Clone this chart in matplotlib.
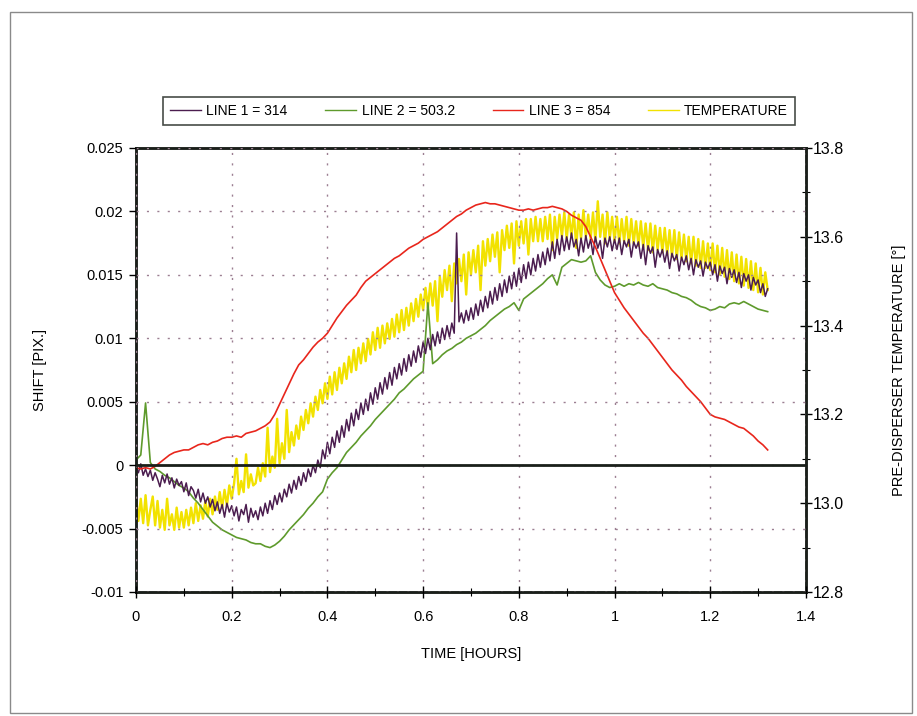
import numpy as np
import matplotlib
matplotlib.use('Agg')
import matplotlib.pyplot as plt
from matplotlib.ticker import MultipleLocator, FuncFormatter
from matplotlib.patches import Rectangle
from matplotlib.lines import Line2D

plt.rcParams['font.family'] = ['Liberation Sans', 'DejaVu Sans']

# time grids (hours)
t_coarse = np.round(np.arange(133) * 0.01, 3)
t_fine = np.round(np.arange(265) * 0.005, 3)

# LINE 3 = 854 (shift, pix), every 0.01 h
line3 = [
    -0.0002, -0.0003, -0.0002, -0.0003, -0.0001, 0.0002, 0.0005, 0.0008, 0.0010, 0.0011,
    0.0012, 0.0012, 0.0014, 0.0016, 0.0017, 0.0016, 0.0018, 0.0019, 0.0021, 0.0022,
    0.0022, 0.0023, 0.0022, 0.0025, 0.0026, 0.0027, 0.0029, 0.0031, 0.0034, 0.0040,
    0.0048, 0.0056, 0.0064, 0.0072, 0.0079, 0.0083, 0.0088, 0.0093, 0.0097, 0.0100,
    0.0104, 0.0110, 0.0116, 0.0121, 0.0126, 0.0130, 0.0134, 0.0140, 0.0145, 0.0148,
    0.0151, 0.0154, 0.0157, 0.0160, 0.0163, 0.0165, 0.0168, 0.0171, 0.0173, 0.0175,
    0.0178, 0.0180, 0.0182, 0.0184, 0.0187, 0.0190, 0.0193, 0.0196, 0.0198, 0.0201,
    0.0203, 0.0205, 0.0206, 0.0207, 0.0206, 0.0206, 0.0205, 0.0204, 0.0203, 0.0202,
    0.0201, 0.0201, 0.0202, 0.0201, 0.0202, 0.0203, 0.0203, 0.0204, 0.0203, 0.0202,
    0.0200, 0.0197, 0.0195, 0.0193, 0.0188, 0.0180, 0.0172, 0.0163, 0.0154, 0.0145,
    0.0136, 0.0130, 0.0124, 0.0119, 0.0114, 0.0109, 0.0104, 0.0100, 0.0095, 0.0090,
    0.0085, 0.0080, 0.0075, 0.0071, 0.0067, 0.0062, 0.0058, 0.0054, 0.0050, 0.0045,
    0.0040, 0.0038, 0.0037, 0.0036, 0.0034, 0.0032, 0.0030, 0.0029, 0.0026, 0.0023,
    0.0019, 0.0016, 0.0012,
]

# LINE 2 = 503.2, every 0.01 h
line2 = [
    0.0004, 0.0008, 0.0049, 0.0002, -0.0003, -0.0005, -0.0008, -0.0010, -0.0013, -0.0016,
    -0.0018, -0.0021, -0.0026, -0.0030, -0.0035, -0.0040, -0.0045, -0.0048, -0.0051, -0.0053,
    -0.0055, -0.0057, -0.0058, -0.0059, -0.0061, -0.0062, -0.0062, -0.0064, -0.0065, -0.0063,
    -0.0060, -0.0056, -0.0051, -0.0047, -0.0043, -0.0039, -0.0034, -0.0030, -0.0025, -0.0021,
    -0.0011, -0.0006, -0.0002, 0.0004, 0.0010, 0.0014, 0.0018, 0.0023, 0.0027, 0.0031,
    0.0036, 0.0040, 0.0044, 0.0048, 0.0052, 0.0057, 0.0060, 0.0064, 0.0068, 0.0071,
    0.0074, 0.0128, 0.0080, 0.0083, 0.0087, 0.0090, 0.0092, 0.0095, 0.0097, 0.0100,
    0.0102, 0.0104, 0.0107, 0.0110, 0.0114, 0.0117, 0.0120, 0.0123, 0.0125, 0.0128,
    0.0122, 0.0131, 0.0134, 0.0137, 0.0140, 0.0143, 0.0147, 0.0150, 0.0142, 0.0156,
    0.0159, 0.0162, 0.0161, 0.0160, 0.0161, 0.0165, 0.0152, 0.0146, 0.0142, 0.0140,
    0.0141, 0.0143, 0.0141, 0.0143, 0.0142, 0.0144, 0.0142, 0.0141, 0.0143, 0.0140,
    0.0139, 0.0138, 0.0136, 0.0135, 0.0133, 0.0132, 0.0130, 0.0127, 0.0125, 0.0124,
    0.0122, 0.0123, 0.0125, 0.0124, 0.0127, 0.0128, 0.0127, 0.0129, 0.0127, 0.0125,
    0.0123, 0.0122, 0.0121,
]

# LINE 1 = 314, every 0.005 h
line1 = [
    -0.0002, -0.0006, 0.0001, -0.0008, -0.0003, -0.0009, -0.0004, -0.0012, -0.0006, -0.0011,
    -0.0017, -0.0008, -0.0014, -0.0007, -0.0015, -0.0010, -0.0018, -0.0011, -0.0016, -0.0013,
    -0.0021, -0.0014, -0.0024, -0.0017, -0.0020, -0.0026, -0.0019, -0.0029, -0.0022, -0.0030,
    -0.0025, -0.0033, -0.0027, -0.0036, -0.0029, -0.0038, -0.0031, -0.0041, -0.0030, -0.0037,
    -0.0032, -0.0040, -0.0033, -0.0044, -0.0035, -0.0039, -0.0031, -0.0045, -0.0034, -0.0041,
    -0.0036, -0.0043, -0.0033, -0.0040, -0.0030, -0.0038, -0.0028, -0.0035, -0.0024, -0.0031,
    -0.0022, -0.0029, -0.0019, -0.0025, -0.0015, -0.0022, -0.0012, -0.0019, -0.0009, -0.0016,
    -0.0006, -0.0013, -0.0003, -0.0009, 0.0000, -0.0006, 0.0004, -0.0002, 0.0012, 0.0005,
    0.0018, 0.0009, 0.0022, 0.0014, 0.0027, 0.0018, 0.0031, 0.0022, 0.0036, 0.0027,
    0.0041, 0.0031, 0.0044, 0.0036, 0.0049, 0.0040, 0.0052, 0.0043, 0.0057, 0.0048,
    0.0061, 0.0052, 0.0065, 0.0056, 0.0069, 0.0060, 0.0073, 0.0063, 0.0077, 0.0068,
    0.0080, 0.0071, 0.0084, 0.0074, 0.0087, 0.0078, 0.0090, 0.0081, 0.0094, 0.0085,
    0.0097, 0.0088, 0.0100, 0.0091, 0.0103, 0.0094, 0.0105, 0.0096, 0.0108, 0.0099,
    0.0110, 0.0101, 0.0112, 0.0104, 0.0183, 0.0113, 0.0120, 0.0112, 0.0122, 0.0114,
    0.0124, 0.0115, 0.0127, 0.0118, 0.0130, 0.0121, 0.0133, 0.0124, 0.0137, 0.0127,
    0.0140, 0.0130, 0.0143, 0.0133, 0.0146, 0.0136, 0.0149, 0.0139, 0.0152, 0.0141,
    0.0155, 0.0144, 0.0158, 0.0147, 0.0160, 0.0150, 0.0163, 0.0153, 0.0166, 0.0156,
    0.0168, 0.0158, 0.0171, 0.0161, 0.0176, 0.0163, 0.0178, 0.0166, 0.0181, 0.0169,
    0.0180, 0.0170, 0.0183, 0.0172, 0.0178, 0.0165, 0.0179, 0.0168, 0.0181, 0.0171,
    0.0178, 0.0166, 0.0180, 0.0171, 0.0177, 0.0163, 0.0179, 0.0172, 0.0180, 0.0169,
    0.0178, 0.0170, 0.0179, 0.0166, 0.0177, 0.0172, 0.0178, 0.0164, 0.0176, 0.0171,
    0.0176, 0.0163, 0.0174, 0.0158, 0.0173, 0.0167, 0.0172, 0.0156, 0.0170, 0.0164,
    0.0170, 0.0160, 0.0169, 0.0155, 0.0167, 0.0161, 0.0166, 0.0153, 0.0164, 0.0158,
    0.0165, 0.0154, 0.0163, 0.0150, 0.0162, 0.0156, 0.0161, 0.0149, 0.0160, 0.0155,
    0.0160, 0.0150, 0.0158, 0.0145, 0.0157, 0.0151, 0.0156, 0.0143, 0.0155, 0.0148,
    0.0154, 0.0144, 0.0152, 0.0140, 0.0151, 0.0145, 0.0150, 0.0138, 0.0148, 0.0142,
    0.0146, 0.0136, 0.0143, 0.0133, 0.0139,
]

# pre-disperser temperature (deg), every 0.005 h
temperature = [
    13.015, 12.960, 13.010, 12.955, 13.018, 12.950, 12.985, 13.015, 12.950, 13.005,
    12.945, 12.985, 12.940, 13.010, 12.950, 12.975, 12.940, 12.990, 12.945, 12.980,
    12.945, 12.985, 12.950, 12.990, 12.955, 13.000, 12.960, 12.995, 12.965, 13.005,
    12.970, 13.010, 12.975, 13.015, 12.985, 13.025, 12.990, 13.030, 12.995, 13.040,
    13.010, 13.045, 13.100, 13.020, 13.050, 13.025, 13.110, 13.035, 13.065, 13.040,
    13.045, 13.080, 13.050, 13.090, 13.060, 13.170, 13.070, 13.105, 13.080, 13.190,
    13.090, 13.135, 13.100, 13.210, 13.115, 13.160, 13.130, 13.175, 13.145, 13.195,
    13.165, 13.210, 13.180, 13.225, 13.195, 13.240, 13.210, 13.255, 13.225, 13.270,
    13.235, 13.285, 13.245, 13.295, 13.255, 13.305, 13.270, 13.315, 13.280, 13.330,
    13.295, 13.345, 13.300, 13.350, 13.315, 13.360, 13.320, 13.370, 13.335, 13.385,
    13.345, 13.395, 13.350, 13.400, 13.360, 13.405, 13.370, 13.415, 13.375, 13.425,
    13.385, 13.435, 13.390, 13.440, 13.400, 13.450, 13.410, 13.460, 13.420, 13.470,
    13.435, 13.485, 13.440, 13.495, 13.445, 13.500, 13.410, 13.510, 13.465, 13.525,
    13.480, 13.535, 13.455, 13.540, 13.495, 13.550, 13.500, 13.560, 13.470, 13.565,
    13.515, 13.570, 13.520, 13.580, 13.480, 13.590, 13.535, 13.595, 13.545, 13.605,
    13.555, 13.610, 13.520, 13.615, 13.570, 13.625, 13.575, 13.630, 13.540, 13.635,
    13.580, 13.635, 13.585, 13.640, 13.560, 13.640, 13.590, 13.645, 13.590, 13.640,
    13.590, 13.645, 13.595, 13.650, 13.570, 13.645, 13.595, 13.650, 13.600, 13.655,
    13.595, 13.650, 13.600, 13.655, 13.575, 13.650, 13.595, 13.660, 13.600, 13.650,
    13.595, 13.655, 13.590, 13.680, 13.600, 13.650, 13.585, 13.655, 13.595, 13.645,
    13.590, 13.645, 13.585, 13.640, 13.590, 13.645, 13.580, 13.640, 13.585, 13.635,
    13.580, 13.635, 13.575, 13.630, 13.570, 13.630, 13.565, 13.625, 13.570, 13.620,
    13.565, 13.620, 13.560, 13.615, 13.555, 13.615, 13.550, 13.610, 13.550, 13.605,
    13.545, 13.600, 13.540, 13.600, 13.535, 13.595, 13.530, 13.590, 13.530, 13.585,
    13.525, 13.585, 13.520, 13.580, 13.515, 13.575, 13.510, 13.570, 13.505, 13.565,
    13.500, 13.560, 13.495, 13.555, 13.490, 13.550, 13.485, 13.545, 13.480, 13.540,
    13.475, 13.530, 13.470, 13.520, 13.480,
]

labels = ['LINE 1 = 314', 'LINE 2 = 503.2', 'LINE 3 = 854', 'TEMPERATURE']
c_line1 = '#4b1d4f'
c_line2 = '#5e9a2c'
c_line3 = '#e8261c'
c_temp = '#f2e200'

fig = plt.figure(figsize=(9.17, 7.16), dpi=100)
ax = fig.add_axes([0.1483, 0.1732, 0.7306, 0.6201])
ax2 = ax.twinx()

# temperature behind the shift lines
ax.set_zorder(ax2.get_zorder() + 1)
ax.patch.set_visible(False)

ax2.plot(t_fine, temperature, color=c_temp, lw=1.7)
ax.plot(t_coarse, line2, color=c_line2, lw=1.2)
ax.plot(t_fine, line1, color=c_line1, lw=1.1)
ax.plot(t_coarse, line3, color=c_line3, lw=1.2)

ax.axhline(0, color='#1a1f1a', lw=2.0, zorder=5)

ax.set_xlim(0, 1.4)
ax.set_ylim(-0.01, 0.025)
ax2.set_ylim(12.8, 13.8)

ax.xaxis.set_major_locator(MultipleLocator(0.2))
ax.xaxis.set_minor_locator(MultipleLocator(0.1))
ax.yaxis.set_major_locator(MultipleLocator(0.005))
ax2.yaxis.set_major_locator(MultipleLocator(0.2))
ax2.yaxis.set_minor_locator(MultipleLocator(0.1))

ax.xaxis.set_major_formatter(FuncFormatter(lambda v, p: '%g' % round(v, 3)))
ax.yaxis.set_major_formatter(FuncFormatter(lambda v, p: '%g' % round(v, 4)))
ax2.yaxis.set_major_formatter(FuncFormatter(lambda v, p: '%.1f' % v))

ax.grid(True, which='major', linestyle=(0, (1.5, 6)), color='#9c7f92', lw=1.0)
ax.set_axisbelow(False)

for a in (ax, ax2):
    for s in a.spines.values():
        s.set_linewidth(1.8)
        s.set_color('#1a1f1a')

ax.tick_params(axis='x', which='major', direction='inout', length=8, width=1.0,
               labelsize=10.5, pad=9)
ax.tick_params(axis='x', which='minor', direction='inout', length=6, width=0.8)
ax.tick_params(axis='y', which='major', direction='out', length=5, width=1.0,
               labelsize=10.5, pad=4)
ax2.tick_params(axis='y', which='major', direction='inout', length=8, width=1.0,
                labelsize=11.5, pad=1)
ax2.tick_params(axis='y', which='minor', direction='inout', length=6, width=0.8)

ax.set_xlabel('TIME [HOURS]', fontsize=10.5)
ax.xaxis.set_label_coords(0.5, -0.123)
ax.set_ylabel('SHIFT [PIX.]', fontsize=10.5)
ax.yaxis.set_label_coords(-0.133, 0.5)
ax2.set_ylabel('PRE-DISPERSER TEMPERATURE [°]', fontsize=10.5)
ax2.yaxis.set_label_coords(1.128, 0.5)

handles = [Line2D([], [], color=c, lw=1.0) for c in (c_line1, c_line2, c_line3, c_temp)]
leg = fig.legend(handles, labels, loc='lower left', ncol=4, mode='expand',
                 bbox_to_anchor=(0.178, 0.826, 0.689, 0.048), fontsize=10,
                 frameon=True, fancybox=False, handlelength=2.2, handletextpad=0.4,
                 borderpad=0.5, borderaxespad=0)
leg.get_frame().set_edgecolor('#1a1f1a')
leg.get_frame().set_linewidth(1.2)

fig.patches.append(Rectangle((0.011, 0.004), 0.984, 0.979, transform=fig.transFigure,
                             fill=False, edgecolor='#8a8a8a', lw=1.0))

fig.savefig('out.png', dpi=100)
